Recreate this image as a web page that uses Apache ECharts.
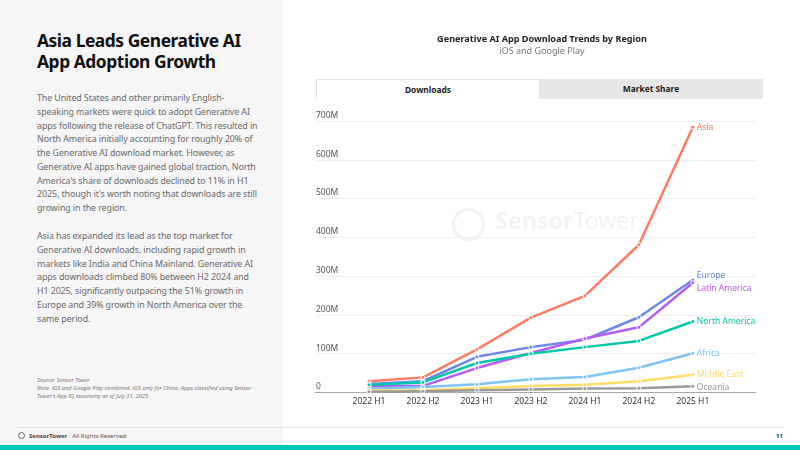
<!DOCTYPE html>
<html>
<head>
<meta charset="utf-8">
<script src="https://cdn.jsdelivr.net/npm/echarts@6/dist/echarts.min.js"></script>
<style>
  html, body { margin: 0; padding: 0; }
  body { width: 800px; height: 450px; position: relative; overflow: hidden; background: #fff; font-family: 'Noto Sans', sans-serif; }
  .side { position: absolute; left: 0; top: 0; width: 283px; height: 445px; background: #f6f6f6; }
  .side h1 { position: absolute; left: 37px; top: 30px; margin: 0; font-size: 17.4px; line-height: 21px; font-weight: 700; color: #111; letter-spacing: -0.45px; white-space: nowrap; }
  .side .txt { position: absolute; left: 37px; margin: 0; font-size: 8.9px; line-height: 13.75px; color: #6a6a6a; white-space: nowrap; letter-spacing: -0.1px; }
  .side .src { position: absolute; left: 37px; top: 376px; font-size: 5.7px; line-height: 8px; color: #777; font-style: italic; white-space: nowrap; }
  .tabs { position: absolute; left: 316px; top: 79px; width: 447px; height: 20px; background: #e6e6e6; }
  .tab { position: absolute; top: 0; height: 20px; line-height: 20px; font-size: 8.4px; font-weight: 700; color: #222; text-align: center; }
  .tab.on { left: 0; width: 222px; background: #fff; border: 1px solid #e3e3e3; border-bottom: none; height: 19px; }
  .tab.off { left: 223px; width: 224px; }
  .foot { position: absolute; left: 18px; top: 427px; width: 765px; height: 1px; background: #e4e4e4; }
  .copy { position: absolute; left: 18px; top: 432px; font-size: 6px; color: #555; white-space: nowrap; }
  .copy b { font-weight: 700; color: #444; margin-left: 11px; margin-right: 5px; }
  .logo { position: absolute; left: 0; top: 0; width: 7px; height: 7px; border: 1px solid #666; border-radius: 50%; box-sizing: border-box; }
  .page { position: absolute; left: 776px; top: 432px; font-size: 6px; color: #333; font-weight: 700; }
  .bar { position: absolute; left: 0; top: 445px; width: 800px; height: 5px; background: #00c8b0; }
  #chart { position: absolute; left: 284px; top: 0; width: 516px; height: 420px; }
</style>
</head>
<body>
<div class="side">
  <h1>Asia Leads Generative AI<br>App Adoption Growth</h1>
  <p class="txt" style="top:91px">The United States and other primarily English-<br>speaking markets were quick to adopt Generative AI<br>apps following the release of ChatGPT. This resulted in<br>North America initially accounting for roughly 20% of<br>the Generative AI download market. However, as<br>Generative AI apps have gained global traction, North<br>America's share of downloads declined to 11% in H1<br>2025, though it's worth noting that downloads are still<br>growing in the region.</p>
  <p class="txt" style="top:229px">Asia has expanded its lead as the top market for<br>Generative AI downloads, including rapid growth in<br>markets like India and China Mainland. Generative AI<br>apps downloads climbed 80% between H2 2024 and<br>H1 2025, significantly outpacing the 51% growth in<br>Europe and 39% growth in North America over the<br>same period.</p>
  <div class="src">Source: Sensor Tower<br>Note: iOS and Google Play combined. iOS only for China. Apps classified using Sensor<br>Tower's App IQ taxonomy as of July 31, 2025.</div>
</div>
<div id="chart"></div>
<div class="tabs"><div class="tab on">Downloads</div><div class="tab off">Market Share</div></div>
<div class="foot"></div>
<div class="copy"><span class="logo"></span><b>SensorTower</b>All Rights Reserved</div>
<div class="page">11</div>
<div class="bar"></div>
<script>
// 半年度下载量（百万）
const periods = ['2022 H1', '2022 H2', '2023 H1', '2023 H2', '2024 H1', '2024 H2', '2025 H1']
const asia = [29, 39, 111, 193, 249, 381, 684]
const europe = [22, 29, 92, 117, 136, 194, 290]
const latinAmerica = [17, 17, 63, 102, 139, 168, 283]
const northAmerica = [20, 26, 76, 100, 117, 133, 183]
const africa = [10, 14, 21, 34, 40, 64, 101]
const middleEast = [5, 6, 11, 17, 20, 29, 46]
const oceania = [2, 3, 6, 8, 10, 11, 16]
const yTicks = [0, 100, 200, 300, 400, 500, 600, 700]

const regions = [
  { name: 'Asia', data: asia, color: '#ff7b65', dy: 0 },
  { name: 'Europe', data: europe, color: '#6f87ea', dy: -4 },
  { name: 'Latin America', data: latinAmerica, color: '#b65cf6', dy: 6 },
  { name: 'North America', data: northAmerica, color: '#00c9a9', dy: 0 },
  { name: 'Africa', data: africa, color: '#7ec5f7', dy: 0 },
  { name: 'Middle East', data: middleEast, color: '#ffdc66', dy: 0 },
  { name: 'Oceania', data: oceania, color: '#9a9a9a', dy: 1 }
]

const chart = echarts.init(document.getElementById('chart'))

const option = {
  animation: false,
  title: {
    text: 'Generative AI App Download Trends by Region',
    subtext: 'iOS and Google Play',
    left: 'center',
    top: 30,
    itemGap: 3,
    textStyle: { fontFamily: 'Noto Sans', fontSize: 9.1, fontWeight: 'bold', color: '#222' },
    subtextStyle: { fontFamily: 'Noto Sans', fontSize: 9, color: '#777' }
  },
  // 水印
  graphic: [
    {
      type: 'group',
      left: 167,
      top: 207,
      silent: true,
      children: [
        { type: 'circle', shape: { cx: 17, cy: 16, r: 15 }, style: { fill: 'none', stroke: '#f3f3f3', lineWidth: 3 } },
        { type: 'text', left: 44, top: 2, style: { text: 'Sensor', font: 'bold 23px "Noto Sans"', fill: '#f3f3f3' } },
        { type: 'text', left: 122, top: 2, style: { text: 'Tower', font: '23px "Noto Sans"', fill: '#f3f3f3' } }
      ]
    }
  ],
  grid: { left: 31, right: 44, top: 121, bottom: 27.5 },
  xAxis: {
    type: 'value',
    min: -1,
    max: 7.17,
    interval: 1,
    axisLine: { show: true, lineStyle: { color: '#a8a8a8', width: 1 } },
    axisTick: { show: false },
    splitLine: { show: false },
    axisLabel: {
      margin: 5,
      fontFamily: 'Noto Sans',
      fontSize: 8.5,
      color: '#333',
      formatter: v => periods[v] || ''
    }
  },
  yAxis: {
    type: 'value',
    min: yTicks[0],
    max: yTicks[yTicks.length - 1],
    interval: 100,
    axisLine: { show: false },
    axisTick: { show: false },
    splitLine: { lineStyle: { color: '#efefef', width: 1 } },
    axisLabel: {
      inside: true,
      margin: 1,
      verticalAlign: 'bottom',
      padding: [0, 0, 1, 0],
      fontFamily: 'Noto Sans',
      fontSize: 8.5,
      color: '#555',
      formatter: v => (v === 0 ? '0' : v + 'M')
    }
  },
  series: regions.map(r => ({
    name: r.name,
    type: 'line',
    data: r.data.map((v, i) => [i, v]),
    symbol: 'circle',
    symbolSize: 4,
    lineStyle: { color: r.color, width: 2.5 },
    itemStyle: { color: r.color, borderColor: '#fff', borderWidth: 1 },
    endLabel: {
      show: true,
      formatter: '{a}',
      distance: 4,
      offset: [0, r.dy],
      fontFamily: 'Noto Sans',
      fontSize: 8.5,
      color: r.color
    }
  }))
}

chart.setOption(option)
</script>
</body>
</html>
